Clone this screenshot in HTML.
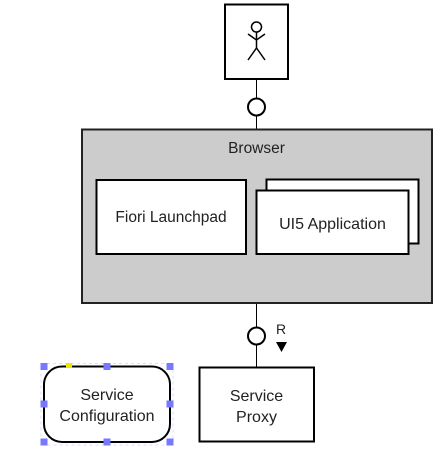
<!DOCTYPE html>
<html><head><style>
html,body{margin:0;padding:0;background:#fff;}
svg{display:block;}
text{font-family:"Liberation Sans",sans-serif;fill:#222;}
</style></head><body>
<svg width="440" height="454" viewBox="0 0 440 454" xmlns="http://www.w3.org/2000/svg">
<line x1="256.5" y1="79" x2="256.5" y2="129" stroke="#000" stroke-width="1"/>
<line x1="256.5" y1="303" x2="256.5" y2="367" stroke="#000" stroke-width="1"/>
<rect x="225" y="4.5" width="63" height="74.5" fill="#fff" stroke="#000" stroke-width="2"/>
<g stroke="#000" stroke-width="1.5" fill="none">
<circle cx="256.5" cy="27" r="5"/>
<line x1="256.5" y1="32" x2="256.5" y2="48"/>
<polyline points="248,34 256.5,40 265,34"/>
<line x1="256.5" y1="48" x2="248" y2="60"/>
<line x1="256.5" y1="48" x2="265" y2="60"/>
</g>
<circle cx="256.5" cy="107" r="8.5" fill="#fff" stroke="#000" stroke-width="2"/>
<rect x="82" y="129.5" width="350" height="173.5" fill="#cccccc" stroke="#222" stroke-width="2"/>
<text x="256.5" y="153" font-size="15.5" text-anchor="middle">Browser</text>
<rect x="96.5" y="180" width="149.5" height="74" fill="#fff" stroke="#000" stroke-width="2"/>
<text x="171" y="222" font-size="15.5" text-anchor="middle">Fiori Launchpad</text>
<rect x="266.5" y="179.5" width="152" height="64" fill="#fff" stroke="#000" stroke-width="2"/>
<rect x="256.5" y="190.5" width="152" height="63.5" fill="#fff" stroke="#000" stroke-width="2"/>
<text x="332.5" y="229" font-size="16" text-anchor="middle">UI5 Application</text>
<circle cx="256.5" cy="336" r="8.5" fill="#fff" stroke="#000" stroke-width="2"/>
<text x="276" y="334" font-size="14">R</text>
<polygon points="276,342 287,342 281.5,352" fill="#000"/>
<rect x="199.5" y="367.5" width="114.5" height="74" fill="#fff" stroke="#000" stroke-width="2"/>
<text x="256.5" y="401" font-size="16" text-anchor="middle">Service</text>
<text x="256.5" y="422" font-size="16" text-anchor="middle">Proxy</text>
<rect x="41" y="363.5" width="132" height="81.5" fill="none" stroke="#dcdcff" stroke-width="1" stroke-dasharray="3,3"/>
<rect x="44" y="366.5" width="126" height="75.5" rx="18" ry="18" fill="#fff" stroke="#000" stroke-width="2"/>
<text x="107" y="400" font-size="16" text-anchor="middle">Service</text>
<text x="107" y="421" font-size="16" text-anchor="middle">Configuration</text>
<g fill="#7777ff">
<rect x="103.5" y="363" width="7" height="7"/>
<rect x="166.5" y="363" width="7" height="7"/>
<rect x="40.5" y="400.5" width="7" height="7"/>
<rect x="166.5" y="400.5" width="7" height="7"/>
<rect x="40.5" y="438.5" width="7" height="7"/>
<rect x="103.5" y="438.5" width="7" height="7"/>
<rect x="166.5" y="438.5" width="7" height="7"/>
<rect x="40.5" y="363" width="7" height="7"/>
</g>
<rect x="66" y="363" width="6" height="5" fill="#e8e800"/>
</svg>
</body></html>
